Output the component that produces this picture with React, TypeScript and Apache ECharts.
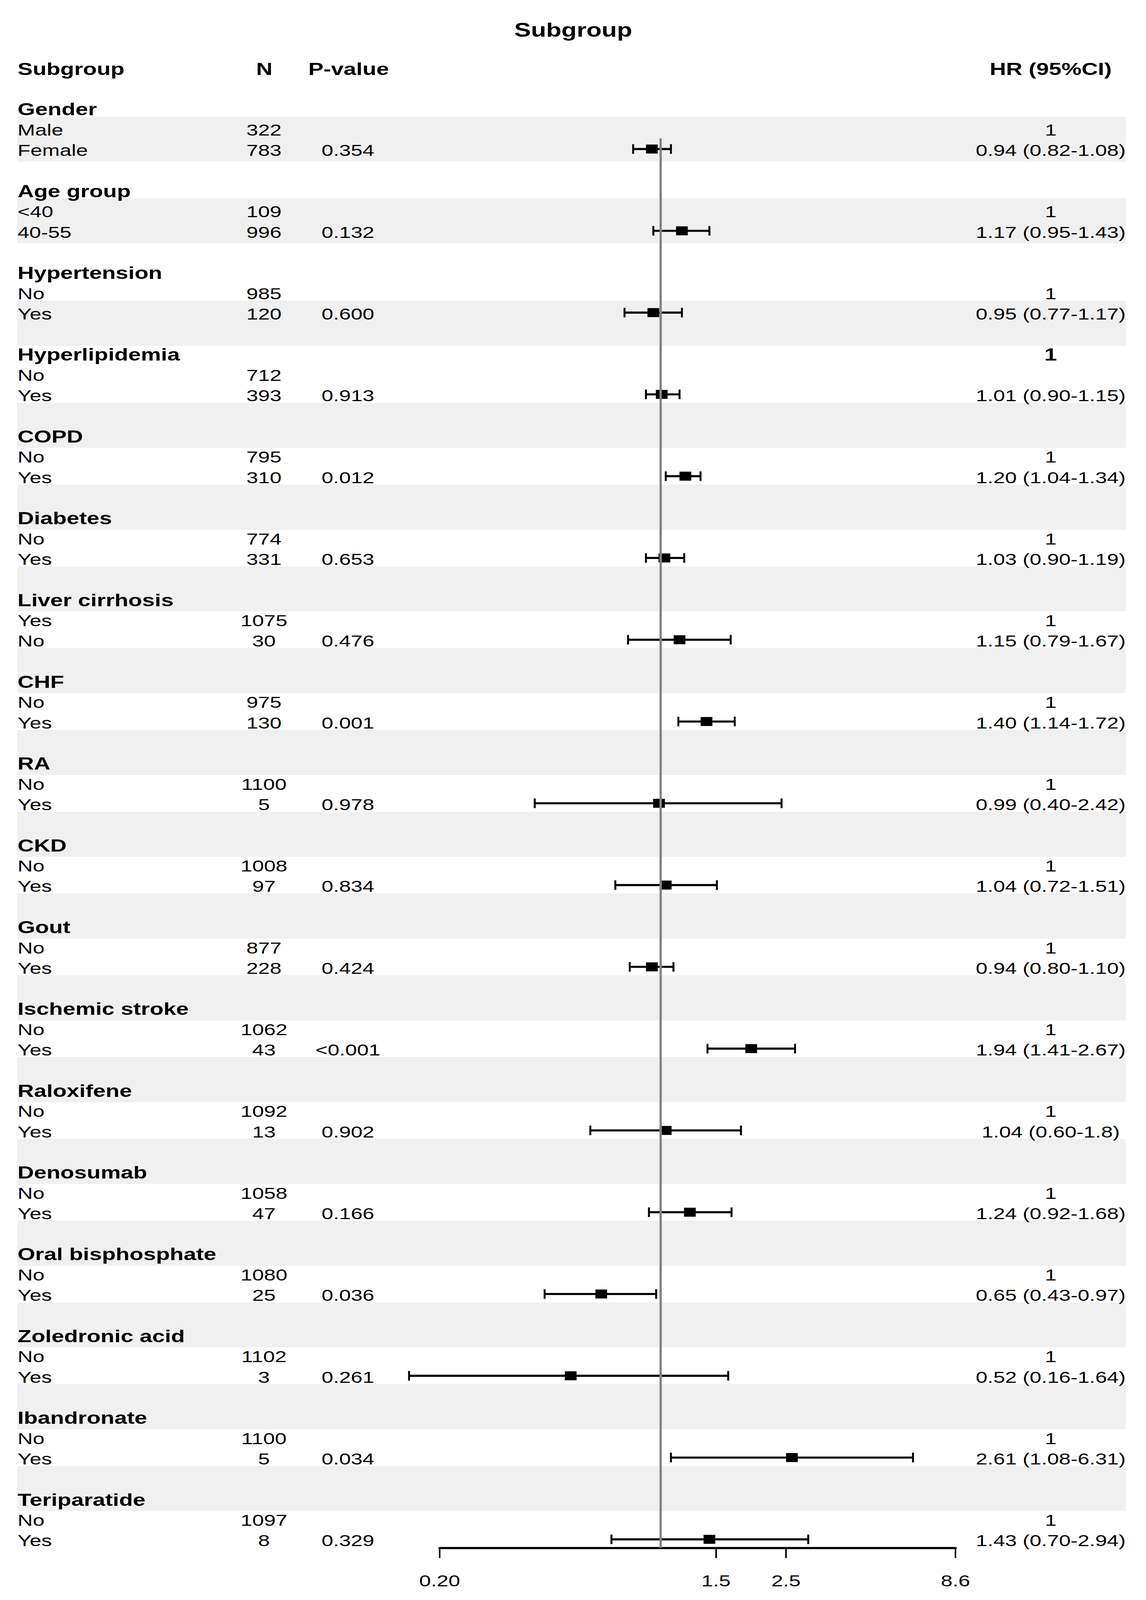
import React, { useEffect, useRef } from "react";
import * as echarts from "echarts";

// ---------------- data ----------------
const groups = [
  "Gender", "Age group", "Hypertension", "Hyperlipidemia", "COPD", "Diabetes",
  "Liver cirrhosis", "CHF", "RA", "CKD", "Gout", "Ischemic stroke", "Raloxifene",
  "Denosumab", "Oral bisphosphate", "Zoledronic acid", "Ibandronate", "Teriparatide",
];
const refLevels = ["Male", "<40", "No", "No", "No", "No", "Yes", "No", "No", "No", "No", "No", "No", "No", "No", "No", "No", "No"];
const cmpLevels = ["Female", "40-55", "Yes", "Yes", "Yes", "Yes", "No", "Yes", "Yes", "Yes", "Yes", "Yes", "Yes", "Yes", "Yes", "Yes", "Yes", "Yes"];
const refCounts = [322, 109, 985, 712, 795, 774, 1075, 975, 1100, 1008, 877, 1062, 1092, 1058, 1080, 1102, 1100, 1097];
const cmpCounts = [783, 996, 120, 393, 310, 331, 30, 130, 5, 97, 228, 43, 13, 47, 25, 3, 5, 8];
const pValues = ["0.354", "0.132", "0.600", "0.913", "0.012", "0.653", "0.476", "0.001", "0.978", "0.834", "0.424", "<0.001", "0.902", "0.166", "0.036", "0.261", "0.034", "0.329"];
const hr = [0.94, 1.17, 0.95, 1.01, 1.2, 1.03, 1.15, 1.4, 0.99, 1.04, 0.94, 1.94, 1.04, 1.24, 0.65, 0.52, 2.61, 1.43];
const lower = [0.82, 0.95, 0.77, 0.9, 1.04, 0.9, 0.79, 1.14, 0.4, 0.72, 0.8, 1.41, 0.6, 0.92, 0.43, 0.16, 1.08, 0.7];
const upper = [1.08, 1.43, 1.17, 1.15, 1.34, 1.19, 1.67, 1.72, 2.42, 1.51, 1.1, 2.67, 1.8, 1.68, 0.97, 1.64, 6.31, 2.94];
const hrLabels = [
  "0.94 (0.82-1.08)", "1.17 (0.95-1.43)", "0.95 (0.77-1.17)", "1.01 (0.90-1.15)",
  "1.20 (1.04-1.34)", "1.03 (0.90-1.19)", "1.15 (0.79-1.67)", "1.40 (1.14-1.72)",
  "0.99 (0.40-2.42)", "1.04 (0.72-1.51)", "0.94 (0.80-1.10)", "1.94 (1.41-2.67)",
  "1.04 (0.60-1.8)", "1.24 (0.92-1.68)", "0.65 (0.43-0.97)", "0.52 (0.16-1.64)",
  "2.61 (1.08-6.31)", "1.43 (0.70-2.94)",
];
const refHrLabel = "1";
const refOnHeaderGroups = ["Hyperlipidemia"];
const axisTicks = [0.2, 1.5, 2.5, 8.6];
const axisTickLabels = ["0.20", "1.5", "2.5", "8.6"];
const axisMin = 0.2;
const axisMax = 8.6;
const refValue = 1;
const title = "Subgroup";
const columnHeaders = ["Subgroup", "N", "P-value", "HR (95%CI)"];

// ---------------- layout ----------------
const W = 2935;
const H = 5341;
const FONT = "'Liberation Sans', Arial, Helvetica, sans-serif";
const ROW0 = 365;
const RH = 68.25;
const ROWS_PER_GROUP = 4;
const rowY = (i: number) => ROW0 + i * RH;
const X_SUB = 45;
const X_N = 676;
const X_P = 891;
const X_HR = 2691;
const GRID_L = 1126;
const GRID_R = 2447;
const GRID_T = 462;
const GRID_B = 5167;
const CI_DY = -4;
const BOX = 30;
const CAP = 16;
const FS = 54;
const FS_BOLD = 58;
const stripeStarts = [1, 5, 10];
for (let r = 15; r <= 67; r += 4) stripeStarts.push(r);

export default function App() {
  const ref = useRef<HTMLDivElement>(null);
  const vh = typeof window !== "undefined" ? window.innerHeight : H;
  const sy = vh > 0 && vh < H ? vh / H : 1;

  useEffect(() => {
    document.body.style.margin = "0";
    document.body.style.overflow = "hidden";
    if (!ref.current) return;
    const chart = echarts.init(ref.current, undefined, { renderer: "svg" });

    const graphics: any[] = [];
    stripeStarts.forEach((s) => {
      const top = rowY(s) - RH / 2 - 10;
      const bottom = rowY(s + 1) + RH / 2 + 4;
      graphics.push({
        type: "rect",
        shape: { x: 44, y: top, width: 2883 - 44, height: bottom - top },
        style: { fill: "#f0f0f0" },
        silent: true,
        z: 0,
      });
    });
    const txt = (text: string, x: number, y: number, size: number, bold: boolean, align: string) => ({
      type: "text",
      x,
      y,
      silent: true,
      z: 1,
      style: {
        text,
        fill: "#000",
        fontSize: size,
        fontFamily: FONT,
        fontWeight: bold ? "bold" : "normal",
        align,
        verticalAlign: "middle",
        textAlign: align,
        textVerticalAlign: "middle",
      },
    });
    graphics.push(txt(title, 1468, 100, 64, true, "center"));
    graphics.push(txt(columnHeaders[0], X_SUB, 230, FS_BOLD, true, "left"));
    graphics.push(txt(columnHeaders[1], 677, 230, FS_BOLD, true, "center"));
    graphics.push(txt(columnHeaders[2], 893, 230, FS_BOLD, true, "center"));
    graphics.push(txt(columnHeaders[3], X_HR, 230, FS_BOLD, true, "center"));

    groups.forEach((g, k) => {
      const h = k * ROWS_PER_GROUP;
      graphics.push(txt(g, X_SUB, rowY(h), FS_BOLD, true, "left"));
      graphics.push(txt(refLevels[k], X_SUB, rowY(h + 1), FS, false, "left"));
      graphics.push(txt(cmpLevels[k], X_SUB, rowY(h + 2), FS, false, "left"));
      graphics.push(txt(String(refCounts[k]), X_N, rowY(h + 1), FS, false, "center"));
      graphics.push(txt(String(cmpCounts[k]), X_N, rowY(h + 2), FS, false, "center"));
      graphics.push(txt(pValues[k], X_P, rowY(h + 2), FS, false, "center"));
      const onHeader = refOnHeaderGroups.includes(g);
      graphics.push(txt(refHrLabel, X_HR, rowY(onHeader ? h : h + 1), onHeader ? FS_BOLD : FS, onHeader, "center"));
      graphics.push(txt(hrLabels[k], X_HR, rowY(h + 2), FS, false, "center"));
    });

    const ciData = groups.map((_, k) => [
      Math.log(hr[k]),
      k * ROWS_PER_GROUP + 2,
      Math.log(lower[k]),
      Math.log(upper[k]),
    ]);

    const option: any = {
      animation: false,
      backgroundColor: "#ffffff",
      graphic: { elements: graphics },
      grid: {
        left: GRID_L,
        width: GRID_R - GRID_L,
        top: GRID_T,
        height: GRID_B - GRID_T,
        containLabel: false,
        outerBoundsMode: "none",
      },
      xAxis: {
        type: "value",
        min: Math.log(axisMin),
        max: Math.log(axisMax),
        splitLine: { show: false },
        axisLine: { show: true, onZero: false, lineStyle: { color: "#000", width: 7 } },
        axisTick: {
          show: true,
          length: 34,
          inside: false,
          customValues: axisTicks.map((v) => Math.log(v)),
          lineStyle: { color: "#000", width: 4 },
        },
        axisLabel: {
          show: true,
          customValues: axisTicks.map((v) => Math.log(v)),
          margin: 82,
          fontSize: FS,
          fontFamily: FONT,
          color: "#000",
          showMinLabel: true,
          showMaxLabel: true,
          hideOverlap: false,
          formatter: (v: number) => {
            let best = 0;
            axisTicks.forEach((t, i) => {
              if (Math.abs(Math.log(t) - v) < Math.abs(Math.log(axisTicks[best]) - v)) best = i;
            });
            return axisTickLabels[best];
          },
        },
      },
      yAxis: {
        type: "value",
        inverse: true,
        min: (GRID_T - ROW0) / RH,
        max: (GRID_B - ROW0) / RH,
        show: false,
      },
      series: [
        {
          type: "custom",
          clip: false,
          z: 3,
          data: ciData,
          encode: { x: [0, 2, 3], y: 1 },
          renderItem: (params: any, api: any) => {
            const y = api.coord([0, api.value(1)])[1] + CI_DY;
            const xc = api.coord([api.value(0), 0])[0];
            const xl = api.coord([api.value(2), 0])[0];
            const xh = api.coord([api.value(3), 0])[0];
            return {
              type: "group",
              children: [
                { type: "line", shape: { x1: xl, y1: y, x2: xh, y2: y }, style: { stroke: "#000", lineWidth: 7 } },
                { type: "line", shape: { x1: xl, y1: y - CAP, x2: xl, y2: y + CAP }, style: { stroke: "#000", lineWidth: 5 } },
                { type: "line", shape: { x1: xh, y1: y - CAP, x2: xh, y2: y + CAP }, style: { stroke: "#000", lineWidth: 5 } },
                { type: "rect", shape: { x: xc - BOX / 2, y: y - BOX / 2, width: BOX, height: BOX }, style: { fill: "#000" } },
              ],
            };
          },
          markLine: {
            silent: true,
            symbol: ["none", "none"],
            label: { show: false },
            lineStyle: { color: "#858585", width: 6, type: "solid" },
            emphasis: { disabled: true },
            data: [{ xAxis: Math.log(refValue) }],
          },
        },
      ],
    };

    chart.setOption(option);
    return () => chart.dispose();
  }, []);

  return (
    <div style={{ width: W, height: Math.floor(H * sy), overflow: "hidden", position: "relative" }}>
      <div
        ref={ref}
        style={{ width: W, height: H, transform: `scaleY(${sy})`, transformOrigin: "0 0" }}
      />
    </div>
  );
}
